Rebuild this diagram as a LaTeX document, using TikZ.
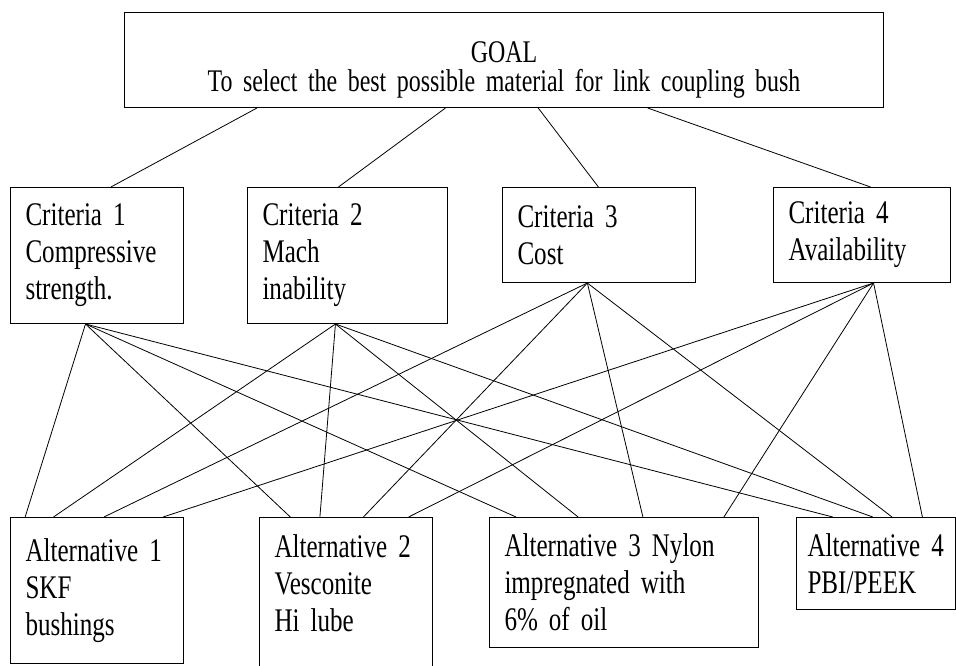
\documentclass[tikz,border=0pt]{standalone}
\usepackage{fontspec}
\setmainfont{Liberation Serif}[FakeStretch=0.76]
\usetikzlibrary{calc}
\tikzset{
  box/.style={draw, line width=1pt, anchor=north west, align=left, inner xsep=15pt, inner ysep=0pt, font={\fontsize{33}{37}\selectfont\spaceskip=6.3pt plus 3pt minus 1pt}},
  link/.style={line width=0.8pt}
}
\begin{document}
\begin{tikzpicture}[x=1pt,y=-1pt]
\useasboundingbox (0,0) rectangle (956,666);
% goal
\node[box, align=center, text width=729pt, minimum height=95pt, font={\fontsize{31.5}{29}\selectfont\spaceskip=6pt plus 3pt minus 1pt}] (goal) at (124,12) {\rule{0pt}{41pt}GOAL\\To select the best possible material for link coupling bush};
% criteria
\node[box, text width=143pt, minimum height=136pt] (c1) at (10,187) {Criteria 1\\Compressive\\strength.};
\node[box, text width=170pt, minimum height=136pt] (c2) at (247,187) {Criteria 2\\Mach\\inability};
\node[box, text width=163pt, minimum height=95pt] (c3) at (502,187) {Criteria 3\\Cost};
\node[box, text width=147pt, minimum height=95pt] (c4) at (773,187) {Criteria 4\\Availability};
% alternatives
\node[box, text width=143pt, minimum height=146pt] (a1) at (10,517) {Alternative 1\\SKF\\bushings};
\node[box, text width=143pt, minimum height=168pt] (a2) at (259,517) {Alternative 2\\Vesconite\\Hi lube\\\mbox{}};
\node[box, text width=239pt, minimum height=130pt] (a3) at (489,517) {Alternative 3 Nylon\\impregnated with\\6\% of oil};
\node[box, text width=137pt, inner xsep=11pt, minimum height=92pt] (a4) at (796,517) {Alternative 4\\PBI/PEEK};
% goal to criteria
\foreach \c/\f/\g in {c1/0.175/0.58, c2/0.423/0.455, c3/0.545/0.497, c4/0.689/0.548}
  \draw[link] ($(goal.south west)!\f!(goal.south east)$) -- ($(\c.north west)!\g!(\c.north east)$);
% criteria to alternatives
\foreach \c/\p in {c1/0.434, c2/0.44, c3/0.44, c4/0.565}
  \coordinate (\c-b) at ($(\c.south west)!\p!(\c.south east)$);
\foreach \a/\fa/\fb/\fc/\fd in {a1/0.087/0.25/0.54/0.88, a2/0.18/0.35/0.60/0.86, a3/0.10/0.33/0.57/0.87, a4/0.23/0.48/0.60/0.79} {
  \draw[link] (c1-b) -- ($(\a.north west)!\fa!(\a.north east)$);
  \draw[link] (c2-b) -- ($(\a.north west)!\fb!(\a.north east)$);
  \draw[link] (c3-b) -- ($(\a.north west)!\fc!(\a.north east)$);
  \draw[link] (c4-b) -- ($(\a.north west)!\fd!(\a.north east)$);
}
\end{tikzpicture}
\end{document}
